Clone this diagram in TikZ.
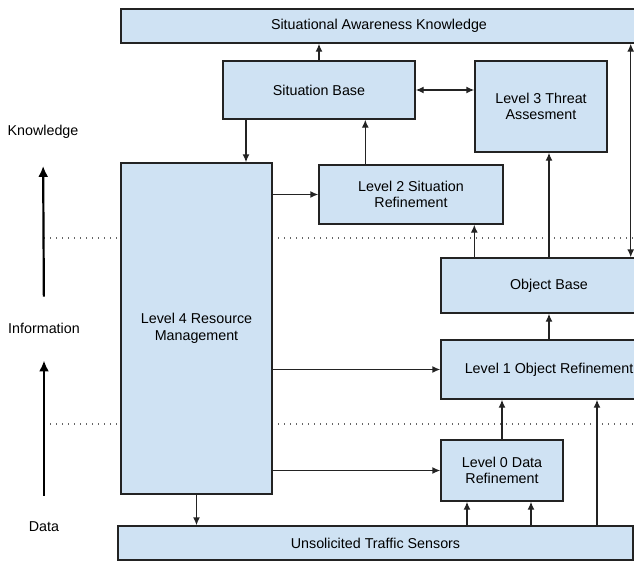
\documentclass[tikz,border=0pt]{standalone}
\usepackage{fontspec}
\setmainfont{Liberation Sans}
\usepackage{xcolor}
\usepackage{tikz}
\usetikzlibrary{arrows.meta,positioning}

\definecolor{boxblue}{RGB}{207,226,243}
\definecolor{lineink}{RGB}{35,35,35}

\begin{document}
\begin{tikzpicture}[
    x=1pt, y=-1pt,
    box/.style={rectangle, draw=lineink, fill=boxblue, line width=1.4pt, align=center, inner sep=0pt, font=\fontsize{14.3}{16.5}\selectfont},
    lbl/.style={font=\fontsize{14.3}{16.5}\selectfont, inner sep=0pt},
    arrow/.style={-{Latex[length=8pt,width=7pt]}, line width=1.4pt, lineink},
    both/.style={{Latex[length=8pt,width=7pt]}-{Latex[length=8pt,width=7pt]}, line width=1.4pt, lineink},
    axis/.style={-{Latex[length=11pt,width=10pt]}, line width=2.2pt, black, shorten <=26pt, shorten >=27pt},
    level/.style={line width=1.3pt, black!60, dash pattern=on 1.3pt off 4.7pt}
]
    \clip (0,0) rectangle (634,563);
    \fill[white] (0,0) rectangle (634,563);

    % levels of abstraction
    \draw[level] (44,238) -- (634,238);
    \draw[level] (44,424) -- (634,424);

    \node[lbl] (know) at (43,132) {Knowledge};
    \node[lbl] (info) at (44,328) {Information};
    \node[lbl] (data) at (44,527) {Data};
    \draw[axis] (info.north) -- (know.south);
    \draw[axis] (data.north) -- (info.south);

    % fusion levels
    \node[box, minimum width=516, minimum height=34] (sak) at (379,26) {Situational Awareness Knowledge};
    \node[box, minimum width=192, minimum height=58] (sb) at (319,90) {Situation Base};
    \node[box, minimum width=132, minimum height=91] (l3) at (541,106.5) {Level 3 Threat\\Assesment};
    \node[box, minimum width=151, minimum height=331] (l4) at (196.5,328.5) {Level 4 Resource\\Management};
    \node[box, minimum width=184, minimum height=59] (l2) at (411,194.5) {Level 2 Situation\\Refinement};
    \node[box, minimum width=216, minimum height=55] (ob) at (549,285.5) {Object Base};
    \node[box, minimum width=216, minimum height=59] (l1) at (549,369.5) {Level 1 Object Refinement};
    \node[box, minimum width=122, minimum height=61] (l0) at (502,470.5) {Level 0 Data\\Refinement};
    \node[box, minimum width=515, minimum height=34] (uts) at (375.5,543) {Unsolicited Traffic Sensors};

    % connectors
    \draw[arrow] (sb.north) -- (sb.north |- sak.south);
    \draw[both] (sb.east) -- (sb.east -| l3.west);
    \draw[arrow] ([xshift=-73]sb.south) coordinate (a) -- (a |- l4.north);
    \draw[arrow] ([xshift=47]l2.north west) coordinate (b) -- (b |- sb.south);
    \draw[arrow] (l4.east |- l2.west) -- (l2.west);
    \draw[arrow] ([xshift=34]ob.north west) coordinate (c) -- (c |- l2.south);
    \draw[arrow] (ob.north) -- (ob.north |- l3.south);
    \draw[both] ([xshift=-27]ob.north east) coordinate (d) -- (d |- sak.south);
    \draw[arrow] (l1.north) -- (ob.south);
    \draw[arrow] (l4.east |- l1.west) -- (l1.west);
    \draw[arrow] (l4.east |- l0.west) -- (l0.west);
    \draw[arrow] (l0.north) -- (l0.north |- l1.south);
    \draw[arrow] ([xshift=48]l1.south) coordinate (e) (e |- uts.north) -- (e);
    \draw[arrow] ([xshift=-35]l0.south) coordinate (f) (f |- uts.north) -- (f);
    \draw[arrow] ([xshift=29]l0.south) coordinate (g) (g |- uts.north) -- (g);
    \draw[arrow] (l4.south) -- (l4.south |- uts.north);
\end{tikzpicture}
\end{document}
